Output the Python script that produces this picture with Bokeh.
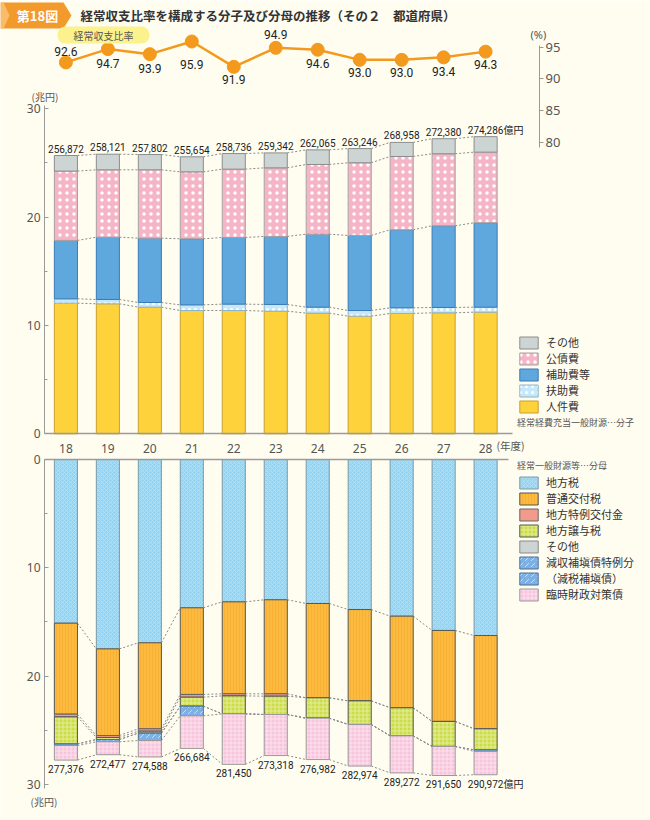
import numpy as np
from bokeh.plotting import figure
from bokeh.models import (ColumnDataSource, Range1d, LinearAxis, FixedTicker, Legend,
                          LegendItem, Label, PolyAnnotation)
from bokeh.core.properties import value
from bokeh.embed import file_html
from bokeh.resources import INLINE

# ---------------- data ----------------
years = [18, 19, 20, 21, 22, 23, 24, 25, 26, 27, 28]
year_labels = ["18", "19", "20", "21", "22", "23", "24", "25", "26", "27", "28"]

# 経常収支比率 (%)
ratio = [92.6, 94.7, 93.9, 95.9, 91.9, 94.9, 94.6, 93.0, 93.0, 93.4, 94.3]

# 分子: 経常経費充当一般財源 (兆円)
num_names = ["人件費", "扶助費", "補助費等", "公債費", "その他"]
jinkenhi = [12.06, 12.00, 11.69, 11.38, 11.38, 11.32, 11.14, 10.86, 11.11, 11.17, 11.23]
fujohi = [0.40, 0.40, 0.43, 0.52, 0.59, 0.62, 0.55, 0.52, 0.52, 0.49, 0.46]
hojohi = [5.39, 5.75, 5.94, 6.10, 6.15, 6.28, 6.74, 6.93, 7.20, 7.54, 7.79]
kousaihi = [6.40, 6.22, 6.31, 6.18, 6.31, 6.33, 6.43, 6.71, 6.77, 6.65, 6.52]
sonota_num = [1.44, 1.44, 1.41, 1.39, 1.44, 1.38, 1.35, 1.31, 1.30, 1.39, 1.43]
num_totals = [256872, 258121, 257802, 255654, 258736, 259342, 262065, 263246, 268958, 272380, 274286]  # 億円

# 分母: 経常一般財源等 (兆円)
den_names = ["地方税", "普通交付税", "地方特例交付金", "地方譲与税", "その他",
             "減収補塡債特例分", "臨時財政対策債"]
den_name_note = "（減税補塡債）"
chihouzei = [15.11, 17.48, 16.92, 13.69, 13.14, 12.95, 13.29, 13.85, 14.46, 15.78, 16.25]
futsu_koufuzei = [8.40, 8.00, 7.94, 8.00, 8.49, 8.68, 8.71, 8.43, 8.46, 8.40, 8.61]
tokurei_koufukin = [0.25, 0.18, 0.22, 0.25, 0.19, 0.22, 0.0, 0.0, 0.0, 0.0, 0.0]
jouyozei = [2.50, 0.19, 0.18, 0.83, 1.66, 1.69, 1.88, 2.18, 2.59, 2.31, 1.94]
sonota_den = [0.0, 0.0, 0.0, 0.0, 0.0, 0.0, 0.0, 0.0, 0.0, 0.0, 0.0]
genshu_hoten = [0.15, 0.21, 0.68, 0.89, 0.0, 0.0, 0.0, 0.0, 0.0, 0.0, 0.15]
rinji_zaisei = [1.34, 1.19, 1.52, 3.01, 4.66, 3.79, 3.82, 3.84, 3.42, 2.68, 2.15]
den_totals = [277376, 272477, 274588, 266684, 281450, 273318, 276982, 282974, 289272, 291650, 290972]  # 億円

# ---------------- styles ----------------
BG = "#fffdf0"
JP = "Noto Sans CJK JP"
NUM = "Roboto"
AXC = "#9a9a9a"
ORANGE = "#f39a1e"
BAR_W = 0.55

num_styles = [
    dict(fill_color="#fdd23b", line_color="#c9a030"),
    dict(fill_color="#c6e8fa", line_color="#8fb4c8", hatch_pattern="dot", hatch_color="white",
         hatch_scale=6, hatch_weight=1),
    dict(fill_color="#5ea8de", line_color="#3a7ab8"),
    dict(fill_color="#f5b5c6", line_color="#a8a0a0", hatch_pattern="dot", hatch_color="white",
         hatch_scale=7, hatch_weight=0.9),
    dict(fill_color="#cdd4d4", line_color="#8c8c8c"),
]
den_styles = [
    dict(fill_color="#93d4f2", line_color="#7a9aa8", hatch_pattern="x", hatch_color="#bfe8fb",
         hatch_scale=4, hatch_weight=0.6),
    dict(fill_color="#fcbb3e", line_color="#555555", hatch_pattern="|", hatch_color="#f3a72c",
         hatch_scale=3, hatch_weight=0.6),
    dict(fill_color="#f29b8c", line_color="#666666"),
    dict(fill_color="#cbdc45", line_color="#555555", hatch_pattern="+", hatch_color="#e4ee9c",
         hatch_scale=4, hatch_weight=1),
    dict(fill_color="#cdd4d4", line_color="#888888"),
    dict(fill_color="#7fb0e3", line_color="#4a6f96", hatch_pattern=",", hatch_color="#dcecfb",
         hatch_scale=6, hatch_weight=0.8),
    dict(fill_color="#f8c3dc", line_color="#999999", hatch_pattern="+", hatch_color="#fde2ee",
         hatch_scale=4, hatch_weight=1),
]

# pixel helpers for decorations (page pixel -> data)
PX_PER_X = 41.97
def ax(px):
    return 17.49 + (px - 44) / PX_PER_X
def ay(py):      # numerator chart (兆円)
    return (433.3 - py) / 10.833
def by(py):      # denominator chart (兆円, downwards)
    return (py - 459) / 10.833
def pct_y(py):   # ratio chart (%)
    return 95 + (46.7 - py) / 6.333

W, H = 650, 820
AX_X = ax(44)          # data x where the y axes sit


def style_axis(a, size="11px"):
    a.axis_line_color = AXC
    a.major_tick_line_color = AXC
    a.minor_tick_line_color = AXC
    a.major_label_text_font = "Noto Sans"
    a.major_label_text_font_size = size
    a.major_label_text_color = "#555555"


def stacked(p, series, styles, rname="default"):
    arr = np.array(series, dtype=float)
    tops = np.cumsum(arr, axis=0)
    bottoms = np.vstack([np.zeros(arr.shape[1]), tops[:-1]])
    xs = np.array(years, dtype=float)
    for lvl in tops:
        p.segment(x0=xs[:-1] + BAR_W / 2, y0=lvl[:-1], x1=xs[1:] - BAR_W / 2, y1=lvl[1:],
                  line_color="#8a8a8a", line_dash="2 2", line_width=1, y_range_name=rname)
    rends = []
    for i, st in enumerate(styles):
        src = ColumnDataSource(dict(x=years, bottom=bottoms[i], top=tops[i]))
        r = p.vbar(x="x", width=BAR_W, bottom="bottom", top="top", source=src, line_width=1,
                   y_range_name=rname, **st)
        rends.append(r)
    return rends, tops


p = figure(width=W, height=H, x_range=Range1d(ax(0), ax(W)), y_range=Range1d(ay(H), ay(0)),
           output_backend="svg", toolbar_location=None, x_axis_location=None,
           y_axis_location="left", min_border=0, background_fill_color=BG,
           border_fill_color=BG, outline_line_color=None)
p.grid.visible = False
p.extra_y_ranges = {"pct": Range1d(pct_y(H), pct_y(0)), "bot": Range1d(by(H), by(0))}

# ---- axes ----
ya = p.yaxis[0]
ya.fixed_location = AX_X
ya.ticker = FixedTicker(ticks=[0, 10, 20, 30], minor_ticks=[5, 15, 25])
ya.bounds = (0, 30.3)
ya.major_tick_in, ya.major_tick_out = 4, 0
ya.minor_tick_in, ya.minor_tick_out = 3, 0
ya.major_label_standoff = 4
style_axis(ya, "12px")

yb = LinearAxis(y_range_name="bot", fixed_location=AX_X, bounds=(0, 30.37),
                ticker=FixedTicker(ticks=[0, 10, 20, 30], minor_ticks=[5, 15, 25]))
yb.major_tick_in, yb.major_tick_out = 4, 0
yb.minor_tick_in, yb.minor_tick_out = 3, 0
yb.major_label_standoff = 4
style_axis(yb, "12px")
p.add_layout(yb, "left")

ra = LinearAxis(y_range_name="pct", ticker=FixedTicker(ticks=[80, 85, 90, 95]),
                bounds=(79.2, 95.3), fixed_location=ax(539))
ra.major_tick_in, ra.major_tick_out = 0, 4
ra.minor_tick_line_color = None
ra.major_label_standoff = 2
style_axis(ra, "13px")
p.add_layout(ra, "right")

base = LinearAxis(fixed_location=0, ticker=FixedTicker(ticks=[]), bounds=(AX_X, ax(512)))
base.axis_line_color = AXC
base.axis_line_width = 1.3
base.major_tick_line_color = None
base.minor_tick_line_color = None
p.add_layout(base, "below")

xb = LinearAxis(y_range_name="bot", fixed_location=0, bounds=(AX_X, ax(508)),
                ticker=FixedTicker(ticks=years))
xb.major_label_overrides = {y: l for y, l in zip(years, year_labels)}
xb.major_tick_in, xb.major_tick_out = 0, 0
xb.minor_tick_line_color = None
xb.major_label_standoff = 7
style_axis(xb, "12px")
xb.axis_line_width = 1.3
p.add_layout(xb, "above")

# ---- numerator bars ----
rA, topsA = stacked(p, [jinkenhi, fujohi, hojohi, kousaihi, sonota_num], num_styles)
p.text(x=years, y=topsA[-1], text=[f"{v:,}" for v in num_totals], y_offset=-7,
       text_font=value(NUM), text_font_size="10px", text_align="center",
       text_baseline="middle", text_color="#222222")
p.add_layout(Label(x=ax(503), y=ay(129), text="億円", text_font=JP, text_font_size="10px",
                   text_baseline="middle", text_color="#222222"))

# ---- denominator bars ----
rB, topsB = stacked(p, [chihouzei, futsu_koufuzei, tokurei_koufukin, jouyozei, sonota_den,
                        genshu_hoten, rinji_zaisei], den_styles, rname="bot")
p.text(x=years, y=topsB[-1], text=[f"{v:,}" for v in den_totals], y_offset=9, y_range_name="bot",
       text_font=value(NUM), text_font_size="10px", text_align="center",
       text_baseline="middle", text_color="#222222")
p.add_layout(Label(x=ax(503), y=by(783), y_range_name="bot", text="億円", text_font=JP,
                   text_font_size="10px", text_baseline="middle", text_color="#222222"))
p.add_layout(Label(x=ax(496), y=by(445), y_range_name="bot", text="(年度)", text_font=JP,
                   text_font_size="10.5px", text_baseline="middle", text_color="#555555"))
p.add_layout(Label(x=ax(30), y=by(801), y_range_name="bot", text="(兆円)", text_font=JP,
                   text_font_size="10px", text_baseline="middle", text_color="#555555"))

# ---- ratio line ----
p.line(years, ratio, y_range_name="pct", line_color=ORANGE, line_width=2.5)
p.scatter(years, ratio, y_range_name="pct", size=13, fill_color=ORANGE, line_color=ORANGE)
label_dy = [-11, 14, 14, 23, 13, -13, 14, 13, 13, 14, 13]
p.text(x=years, y=ratio, text=[f"{v:.1f}" for v in ratio], y_offset=label_dy, y_range_name="pct",
       text_font=value(NUM), text_font_size="12px", text_align="center",
       text_baseline="middle", text_color="#222222")

# ---- title and units ----
p.add_layout(PolyAnnotation(xs=[ax(0), ax(63), ax(71), ax(63), ax(0)],
                            ys=[ay(2), ay(2), ay(15), ay(28), ay(28)],
                            fill_color="#f39a2c", fill_alpha=1, line_color=None))
p.add_layout(PolyAnnotation(xs=[ax(0), ax(3), ax(9), ax(3), ax(0)],
                            ys=[ay(2), ay(2), ay(15), ay(28), ay(28)],
                            fill_color="#f8bd6a", fill_alpha=1, line_color=None))
p.add_layout(Label(x=ax(37), y=ay(15), text="第18図", text_font=JP, text_font_size="13px",
                   text_font_style="bold", text_color="white", text_align="center",
                   text_baseline="middle"))
p.add_layout(Label(x=ax(80), y=ay(15), text="経常収支比率を構成する分子及び分母の推移（その２　都道府県）",
                   text_font=JP, text_font_size="12.5px", text_font_style="bold",
                   text_color="#333333", text_baseline="middle"))
p.add_layout(Label(x=ax(103), y=ay(34.5), text="経常収支比率", text_font=JP, text_font_size="10px",
                   text_color="#555555", text_align="center", text_baseline="middle",
                   background_fill_color="#fbf28e", border_radius=8, padding=(16, 1)))
p.add_layout(Label(x=ax(530), y=pct_y(34), y_range_name="pct", text="(%)", text_font="Noto Sans",
                   text_font_size="11px", text_color="#555555", text_baseline="middle"))
p.add_layout(Label(x=ax(31), y=ay(96), text="(兆円)", text_font=JP, text_font_size="10px",
                   text_color="#555555", text_baseline="middle"))

# ---- legends ----
legA = Legend(items=[LegendItem(label=num_names[i], renderers=[rA[i]]) for i in reversed(range(5))],
              location=(517, 391), title="経常経費充当一般財源…分子", title_location="below")
itemsB = []
for i in range(7):
    itemsB.append(LegendItem(label=den_names[i], renderers=[rB[i]]))
    if i == 5:
        itemsB.append(LegendItem(label=den_name_note, renderers=[rB[i]]))
legB = Legend(items=itemsB, location=(517, 218), title="経常一般財源等…分母", title_location="above")

for lg in [legA, legB]:
    lg.glyph_width = 23
    lg.glyph_height = 15
    lg.label_height = 15
    lg.spacing = 0
    lg.padding = 0
    lg.margin = 0
    lg.label_standoff = 6
    lg.label_text_font = JP
    lg.label_text_font_size = "11px"
    lg.label_text_color = "#333333"
    lg.title_text_font = JP
    lg.title_text_font_size = "9px"
    lg.title_text_font_style = "normal"
    lg.title_text_color = "#555555"
    lg.title_standoff = 2
    lg.border_line_color = None
    lg.background_fill_alpha = 0
p.add_layout(legA)
p.add_layout(legB)

open("out.html", "w").write(file_html(p, INLINE))
